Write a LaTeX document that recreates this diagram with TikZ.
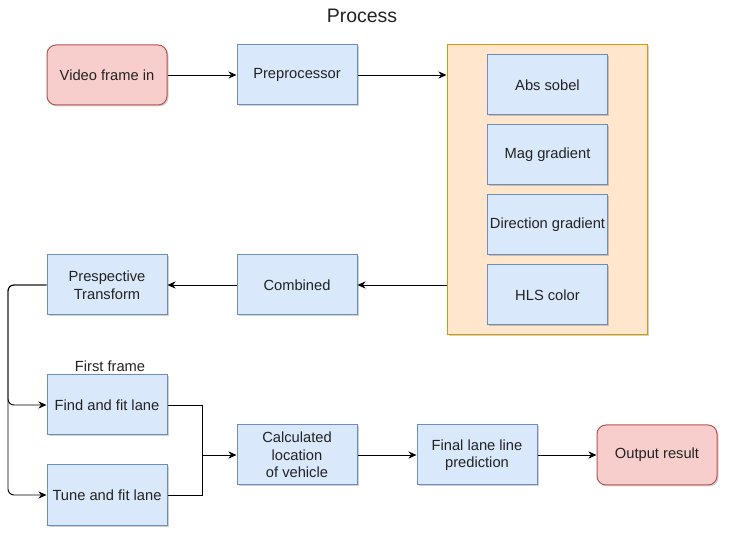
\documentclass[tikz,border=0pt]{standalone}
\usepackage{fontspec}
\setmainfont{Liberation Sans}
\usetikzlibrary{arrows.meta,shadows,calc}
\definecolor{bfill}{HTML}{DAE8FC}
\definecolor{bline}{HTML}{6C8EBF}
\definecolor{rfill}{HTML}{F8CECC}
\definecolor{rline}{HTML}{B85450}
\definecolor{ofill}{HTML}{FFE6CC}
\definecolor{oline}{HTML}{D79B00}
\definecolor{txt}{HTML}{222222}
\begin{document}
\begin{tikzpicture}[x=1pt,y=-1pt,
  font=\fontsize{14.7}{17.5}\selectfont, text=txt,
  shd/.style={drop shadow={shadow xshift=1.5pt,shadow yshift=-1.5pt,opacity=0.18,fill=black}},
  bluebox/.style={shd,draw=bline,fill=bfill,line width=1pt,minimum width=120pt,minimum height=60pt,inner sep=0pt,align=center},
  redbox/.style={shd,draw=rline,fill=rfill,line width=1pt,minimum width=120pt,minimum height=60pt,inner sep=0pt,rounded corners=9pt,align=center},
  contbox/.style={shd,draw=oline,fill=ofill,line width=1pt,minimum width=200pt,minimum height=290pt,inner sep=0pt},
  arr/.style={draw=black,line width=0.9pt,-{Stealth[length=8pt,width=7pt,inset=2.5pt]}},
  ln/.style={draw=black,line width=0.9pt}
]
\useasboundingbox (0,0) rectangle (729,537);
\node[font=\fontsize{19.5}{22}\selectfont] (title) at (362,16) {Process};
\node[redbox] (video) at (107,75) {Video frame in};
\node[bluebox] (pre) at (297,75) {Preprocessor};
\node[contbox] (cont) at (547,190) {};
\node[bluebox] (abs) at (547.5,85) {Abs sobel};
\node[bluebox] (mag) at (547.5,155) {Mag gradient};
\node[bluebox] (dir) at (547.5,225) {Direction gradient};
\node[bluebox] (hls) at (547.5,295) {HLS color};
\node[bluebox] (comb) at (297,285) {Combined};
\node[bluebox] (pt) at (107,285) {Prespective\\Transform};
\node[bluebox] (find) at (107,405) {Find and fit lane};
\node[bluebox] (tune) at (107,495) {Tune and fit lane};
\node (ff) at (110,366) {First frame};
\node[bluebox] (calc) at (297,455) {Calculated\\location\\ of vehicle};
\node[bluebox] (final) at (477,455) {Final lane line\\prediction};
\node[redbox] (out) at (657,455) {Output result};
\coordinate (jn) at (202,455);
\coordinate (lx) at (8,285);

\draw[arr] (video.east) -- (pre.west);
\draw[arr] (pre.east) -- (pre.east -| cont.west);
\draw[arr] (cont.west |- comb.east) -- (comb.east);
\draw[arr] (comb.west) -- (pt.east);
\draw[arr,rounded corners=6pt] (pt.west) -- (lx) |- (find.west);
\draw[arr,rounded corners=6pt] (pt.west) -- (lx) |- (tune.west);
\draw[ln] (find.east) -| (jn);
\draw[ln] (tune.east) -| (jn);
\draw[arr] (jn) -- (calc.west);
\draw[arr] (calc.east) -- (final.west);
\draw[arr] (final.east) -- (out.west);
\end{tikzpicture}
\end{document}
